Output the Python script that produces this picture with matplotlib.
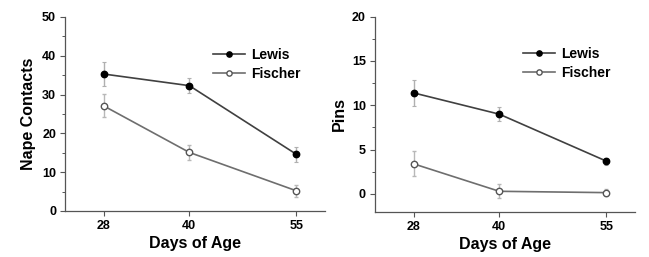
import numpy as np
import matplotlib.pyplot as plt
from matplotlib.ticker import MultipleLocator
from matplotlib.lines import Line2D

plt.rcParams['font.family'] = ['Liberation Sans', 'DejaVu Sans']
plt.rcParams['font.weight'] = 'bold'

#-----------------------
# Data
#-----------------------

days = [28, 40, 55]
day_labels = ['28', '40', '55']

nape_lewis = [35.3, 32.3, 14.6]
nape_lewis_err = [3.0, 2.0, 2.0]
nape_fischer = [27.1, 15.1, 5.2]
nape_fischer_err = [3.0, 2.0, 1.5]

pins_lewis = [11.4, 9.0, 3.7]
pins_lewis_err = [1.5, 0.8, 0.4]
pins_fischer = [3.4, 0.3, 0.15]
pins_fischer_err = [1.4, 0.8, 0.4]

#-----------------------
# Plot
#-----------------------

fig = plt.figure(figsize=(6.49, 2.57), dpi=100)
fs_tick, fs_lab, fs_leg = 9, 11.5, 10
cL, cF = '#404040', '#6e6e6e'

def panel(ax, yL, eL, yF, eF, ylims, major, minor, ylab, legxy):
    ax.errorbar(days, yL, yerr=eL, color=cL, lw=1.2, marker='o', ms=4.6,
                mfc='k', mec='k', ecolor='#b0b0b0', elinewidth=1.0, capsize=1.5,
                capthick=0.8, zorder=3)
    ax.errorbar(days, yF, yerr=eF, color=cF, lw=1.2, marker='o', ms=4.6,
                mfc='white', mec='#555555', mew=1.0, ecolor='#b8b8b8', elinewidth=1.0,
                capsize=1.5, capthick=0.8, zorder=3)
    ax.set_xlim(22.6, 59)
    ax.set_ylim(ylims)
    ax.set_xticks(days)
    ax.set_xticklabels(day_labels)
    ax.yaxis.set_major_locator(MultipleLocator(major))
    ax.yaxis.set_minor_locator(MultipleLocator(minor))
    ax.spines['top'].set_visible(False)
    ax.spines['right'].set_visible(False)
    for s in ['left', 'bottom']:
        ax.spines[s].set_color('#555555')
        ax.spines[s].set_linewidth(0.9)
    ax.tick_params(axis='both', which='major', labelsize=fs_tick, length=3.5,
                   width=0.8, color='#555555', pad=3)
    ax.tick_params(axis='y', which='minor', length=2, width=0.7, color='#555555')
    ax.set_xlabel('Days of Age', fontsize=fs_lab, fontweight='bold', labelpad=3)
    ax.set_ylabel(ylab, fontsize=fs_lab, fontweight='bold', labelpad=4)
    hL = Line2D([], [], color=cL, lw=1.2, marker='o', ms=3.8, mfc='k', mec='k')
    hF = Line2D([], [], color=cF, lw=1.2, marker='o', ms=3.8, mfc='white', mec='#555555')
    ax.legend([hL, hF], ['Lewis', 'Fischer'], loc='upper left', bbox_to_anchor=legxy,
              frameon=False, fontsize=fs_leg, handlelength=2.3, handletextpad=0.45,
              labelspacing=0.35, borderaxespad=0, borderpad=0)

ax1 = fig.add_axes([0.1002, 0.179, 0.4006, 0.755])
panel(ax1, nape_lewis, nape_lewis_err, nape_fischer, nape_fischer_err,
      [0, 50], 10, 5, 'Nape Contacts', (0.57, 0.84))

ax2 = fig.add_axes([0.5778, 0.1763, 0.4006, 0.759])
panel(ax2, pins_lewis, pins_lewis_err, pins_fischer, pins_fischer_err,
      [-2, 20], 5, 2.5, 'Pins', (0.57, 0.845))

plt.savefig('out.png', dpi=100)
